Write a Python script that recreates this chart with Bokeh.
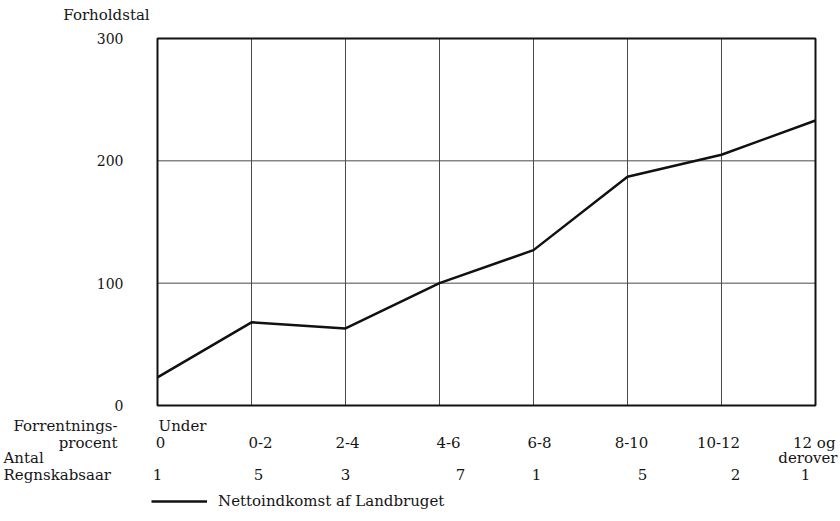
from bokeh.plotting import figure
from bokeh.models import ColumnDataSource, Range1d, Legend, LegendItem
from bokeh.embed import file_html
from bokeh.resources import INLINE
from bokeh.core.properties import value

# ---- data ----
positions = [0, 1, 2, 3, 4, 5, 6, 7]
rate_labels = ["0", "0-2", "2-4", "4-6", "6-8", "8-10", "10-12", "12 og"]
counts = ["1", "5", "3", "7", "1", "5", "2", "1"]
values = [23, 68, 63, 100, 127, 187, 205, 233]
y_ticks = [0, 100, 200, 300]
series_name = "Nettoindkomst af Landbruget"
y_title = "Forholdstal"

# ---- styling (pixel nudges, as in the printed original) ----
rate_dx = [3, 9, 2, 9, 6, 4, -3]
count_dx = [0, 7, 0, 21, 3, 15, 14, -10]

FONT = value("DejaVu Serif")
FS = value("15px")
TXT = "#151515"
GRID = "#4a4a4a"

x0, x1 = positions[0], positions[-1]
y0, y1 = y_ticks[0], y_ticks[-1]

p = figure(width=840, height=521, output_backend="svg", toolbar_location=None,
           x_range=Range1d(x0 - 1.6702, x1 + 0.266),
           y_range=Range1d(y0 - 94.82, y1 + 31.06),
           min_border=0)
p.min_border_left = p.min_border_right = p.min_border_top = p.min_border_bottom = 0
p.axis.visible = False
p.grid.visible = False
p.outline_line_color = None
p.background_fill_color = "white"
p.border_fill_color = "white"

# grid lines
inner_x = positions[1:-1]
p.segment(x0=inner_x, x1=inner_x, y0=[y0] * len(inner_x), y1=[y1] * len(inner_x),
          line_color=GRID, line_width=1)
inner_y = y_ticks[1:-1]
p.segment(x0=[x0] * len(inner_y), x1=[x1] * len(inner_y), y0=inner_y, y1=inner_y,
          line_color=GRID, line_width=1)

# data line
src = ColumnDataSource(dict(x=positions, y=values))
line = p.line("x", "y", source=src, line_color="#111111", line_width=2.5)

# frame
p.quad(left=[x0], right=[x1], bottom=[y0], top=[y1], fill_color=None,
       line_color="#111111", line_width=2)

def txt(x, y, text, dx=0, dy=0, align="left", size=FS):
    return p.text(x=x, y=y, text=text, x_offset=dx, y_offset=dy,
                  text_font=FONT, text_font_size=size, text_color=TXT,
                  text_align=align, text_baseline="middle")

# y tick labels and title
txt([x0] * len(y_ticks), y_ticks, [str(v) for v in y_ticks], dx=-34, align="right",
    size=value("14px"))
txt([x0], [y1], [y_title], dx=-51, dy=-23, align="center")

# left row labels
txt([x0], [y0], ["Forrentnings-"], dx=-40, dy=20, align="right")
txt([x0], [y0], ["procent"], dx=-40, dy=37, align="right")
txt([x0], [y0], ["Antal"], dx=-154, dy=52)
txt([x0], [y0], ["Regnskabsaar"], dx=-154, dy=69)

# category labels
txt([x0], [y0], ["Under"], dx=1, dy=20)
rsrc = ColumnDataSource(dict(x=positions[:-1], y=[y0] * 7, t=rate_labels[:-1], dx=rate_dx))
p.text(x="x", y="y", text="t", x_offset="dx", y_offset=37, source=rsrc,
       text_font=FONT, text_font_size=FS, text_color=TXT,
       text_align="center", text_baseline="middle")
txt([x1], [y0], [rate_labels[-1]], dx=20, dy=37, align="right")
txt([x1], [y0], ["derover"], dx=22, dy=52, align="right")

csrc = ColumnDataSource(dict(x=positions, y=[y0] * 8, t=counts, dx=count_dx))
p.text(x="x", y="y", text="t", x_offset="dx", y_offset=69, source=csrc,
       text_font=FONT, text_font_size=FS, text_color=TXT,
       text_align="center", text_baseline="middle")

legend = Legend(items=[LegendItem(label=series_name, renderers=[line])],
                location=(151, 11), border_line_color=None,
                background_fill_alpha=0, padding=0, margin=0, spacing=0,
                glyph_width=56, glyph_height=16, label_height=16, label_standoff=11,
                label_text_font="DejaVu Serif", label_text_font_size="15px",
                label_text_color=TXT)
p.add_layout(legend)

open("out.html", "w").write(file_html(p, INLINE))
